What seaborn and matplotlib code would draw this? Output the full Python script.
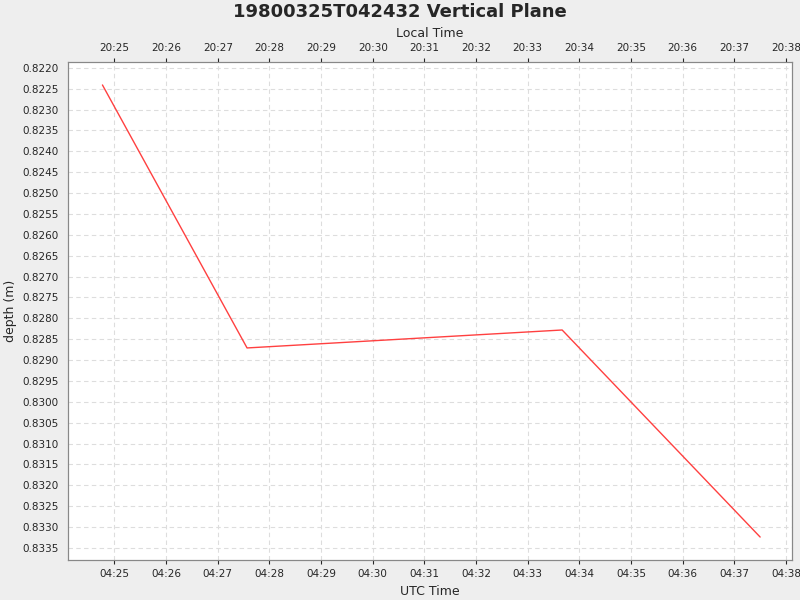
import matplotlib
matplotlib.use("Agg")
import matplotlib.pyplot as plt
import matplotlib.dates as mdates
import matplotlib.ticker as mticker
import seaborn as sns
import pandas as pd
import numpy as np

times = ["1980-03-25 04:24:46", "1980-03-25 04:27:34", "1980-03-25 04:33:40", "1980-03-25 04:37:30"]
depths = [0.82241, 0.82871, 0.82828, 0.83324]

df = pd.DataFrame({"time": pd.to_datetime(times), "depth": depths})

sns.set_style("white")
plt.rcParams['font.family'] = ['DejaVu Sans']
fig = plt.figure(figsize=(8, 6), dpi=100, facecolor="#eeeeee")
ax = fig.add_axes([68/800, 40/600, 724/800, 498/600])
ax.set_facecolor("white")
sns.lineplot(data=df, x="time", y="depth", ax=ax, color="#ff4040", linewidth=1)

x0 = pd.Timestamp("1980-03-25 04:24:06")
x1 = pd.Timestamp("1980-03-25 04:38:07")
ax.set_xlim(x0, x1)
ax.set_ylim(0.83379, 0.82186)
ax.yaxis.set_major_locator(mticker.MultipleLocator(0.0005))
ax.yaxis.set_major_formatter(mticker.FormatStrFormatter("%.4f"))
ax.xaxis.set_major_locator(mdates.MinuteLocator())
ax.xaxis.set_major_formatter(mdates.DateFormatter("%H:%M"))
ax.grid(True, color="#dddddd", linestyle=(0, (4, 3)), linewidth=0.8)
ax.tick_params(labelsize=7.5, length=3, direction="out")
ax.set_xlabel("UTC Time", fontsize=9)
ax.set_ylabel("depth (m)", fontsize=9)
for s in ax.spines.values():
    s.set_color("#888888"); s.set_linewidth(0.8)

ax2 = ax.twiny()
ax2.set_xlim(ax.get_xlim())
ax2.xaxis.set_major_locator(mdates.MinuteLocator())
off = 8/24
ax2.xaxis.set_major_formatter(mticker.FuncFormatter(lambda v, p: mdates.num2date(v - off).strftime("%H:%M")))
ax2.tick_params(labelsize=7.5, length=3)
ax2.set_xlabel("Local Time", fontsize=9)
for s in ax2.spines.values():
    s.set_color("#888888"); s.set_linewidth(0.8)

fig.suptitle("19800325T042432 Vertical Plane", fontsize=13, fontweight="bold", y=0.995)
fig.savefig("out.png", dpi=100, facecolor=fig.get_facecolor())
